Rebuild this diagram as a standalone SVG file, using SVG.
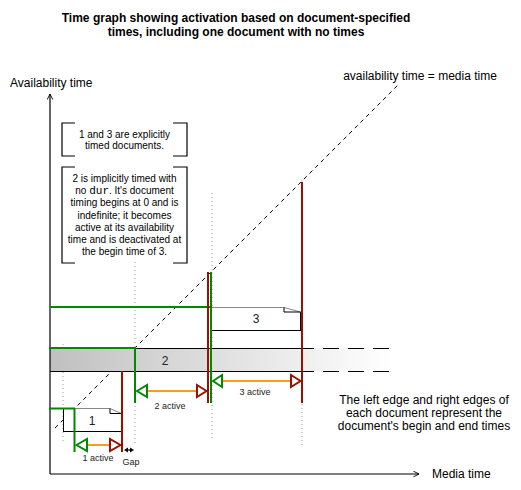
<svg xmlns="http://www.w3.org/2000/svg" width="521" height="490" viewBox="0 0 521 490">
<style>
text{font-family:"Liberation Sans",Arial,sans-serif;fill:#000}
.title{font-size:12px;font-weight:bold;text-anchor:middle}
.lbl{font-size:12px}
.note{font-size:10px;text-anchor:middle}
.mono{font-family:"Liberation Mono","Courier New",monospace;font-size:11px}
.act{font-size:9px;text-anchor:middle;fill:#222}
.num{font-size:12px;text-anchor:middle;fill:#222}
.axis{stroke:#000;stroke-width:1.2;fill:none}
.diag{stroke:#000;stroke-width:1;stroke-dasharray:4 4;fill:none}
.dot{stroke:#999;stroke-width:1;stroke-dasharray:1 3;fill:none}
.g{stroke:#008800;stroke-width:2;fill:none}
.r{stroke:#991100;stroke-width:2;fill:none}
.o{stroke:#ff9a1f;stroke-width:2;fill:none}
.gt{stroke:#008800;stroke-width:2;fill:#fff}
.rt{stroke:#991100;stroke-width:2;fill:#fff}
.brk{stroke:#000;stroke-width:1.2;fill:none}
.edge{stroke:#000;stroke-width:1;fill:none}
.top{stroke:#888;stroke-width:1;fill:none}
</style>
<defs>
<marker id="open" viewBox="0 0 10 10" refX="9" refY="5" markerWidth="7" markerHeight="7" orient="auto" markerUnits="userSpaceOnUse">
<path d="M1,1 L9,5 L1,9" fill="none" stroke="#000" stroke-width="1.3"/>
</marker>
<linearGradient id="band" x1="50" y1="0" x2="390" y2="0" gradientUnits="userSpaceOnUse">
<stop offset="0" stop-color="#c0c0c0"/>
<stop offset="1" stop-color="#ffffff"/>
</linearGradient>
</defs>
<rect width="521" height="490" fill="#fff"/>

<g id="title">
<text class="title" x="236" y="22">Time graph showing activation based on document-specified</text>
<text class="title" x="236" y="36">times, including one document with no times</text>
</g>

<g id="guides">
<line class="dot" x1="63" y1="344" x2="63" y2="443"/>
<line class="dot" x1="135" y1="262" x2="135" y2="443"/>
<line class="dot" x1="212" y1="193" x2="212" y2="440"/>
<line class="dot" x1="302" y1="180" x2="302" y2="445"/>
<line class="diag" x1="55" y1="428" x2="398" y2="85"/>
</g>

<g id="doc2">
<rect x="50" y="348" width="340" height="23" fill="url(#band)"/>
<path class="edge" d="M50,348.5 H314 M323,348.5 H339 M348,348.5 H364 M373,348.5 H389"/>
<path class="edge" d="M50,371.5 H314 M323,371.5 H339 M348,371.5 H364 M373,371.5 H389"/>
<text class="num" x="165" y="365">2</text>
</g>

<g id="doc3">
<rect x="212" y="307" width="89" height="24" fill="#fff"/>
<path class="top" d="M212,307.5 H284 L300.5,312"/>
<path class="edge" d="M284,307.5 V312 H300.5 M300.5,312 V331 M212,330.5 H300.5"/>
<text class="num" x="256" y="323">3</text>
</g>

<g id="doc1">
<rect x="63" y="409" width="59" height="23" fill="#fff"/>
<path class="top" d="M63,408.5 H110 L121.5,413.5"/>
<path class="edge" d="M110,408.5 V413.5 H121.5 M63.5,408.5 V432 M63,431.5 H121.5"/>
<text class="num" x="92" y="425">1</text>
</g>

<g id="connectors">
<line class="axis" x1="50" y1="474" x2="50" y2="94" marker-end="url(#open)"/>
<line class="axis" x1="50" y1="474" x2="419" y2="474" marker-end="url(#open)"/>

<line class="g" x1="50" y1="307" x2="211" y2="307"/>
<line class="g" x1="49" y1="348" x2="136" y2="348"/>
<line class="g" x1="49" y1="408.5" x2="75" y2="408.5"/>

<line class="r" x1="122" y1="371" x2="122" y2="452"/>
<line class="r" x1="208" y1="272" x2="208" y2="403"/>
<line class="r" x1="302" y1="182" x2="302" y2="403"/>
<line class="g" x1="74.5" y1="408" x2="74.5" y2="452"/>
<line class="g" x1="135" y1="348" x2="135" y2="403"/>
<line class="g" x1="211" y1="272" x2="211" y2="403"/>

<line class="o" x1="87" y1="445" x2="110" y2="445"/>
<polygon class="gt" points="76.5,445 87,439 87,451"/>
<polygon class="rt" points="120.5,445 110,439 110,451"/>

<line class="o" x1="147" y1="391" x2="197" y2="391"/>
<polygon class="gt" points="137,391 147,385 147,397"/>
<polygon class="rt" points="206.5,391 197,385 197,397"/>

<line class="o" x1="222" y1="381" x2="291" y2="381"/>
<polygon class="gt" points="213,381 222,375 222,387"/>
<polygon class="rt" points="300.5,381 291,375 291,387"/>

<line x1="126" y1="450" x2="131" y2="450" stroke="#000" stroke-width="1.2"/>
<polygon points="124,450 128,447.5 128,452.5" fill="#000"/>
<polygon points="134,450 130,447.5 130,452.5" fill="#000"/>
</g>

<g id="labels">
<text class="lbl" x="10" y="87">Availability time</text>
<text class="lbl" x="420" y="80" text-anchor="middle">availability time = media time</text>
<text class="lbl" x="432" y="478">Media time</text>
<text class="lbl" x="424" y="404" text-anchor="middle">The left edge and right edges of</text>
<text class="lbl" x="424" y="417" text-anchor="middle">each document represent the</text>
<text class="lbl" x="424" y="430" text-anchor="middle">document's begin and end times</text>
<text class="act" x="98" y="461">1 active</text>
<text class="act" x="131" y="465">Gap</text>
<text class="act" x="170" y="409">2 active</text>
<text class="act" x="255" y="395">3 active</text>
</g>

<g id="note1">
<path class="brk" d="M75,123 H62 V156 H75 M173,123 H187 V156 H173"/>
<text class="note" x="124.5" y="138">1 and 3 are explicitly</text>
<text class="note" x="124.5" y="149">timed documents.</text>
</g>

<g id="note2">
<path class="brk" d="M75,167 H62 V263 H75 M173,167 H187 V263 H173"/>
<text class="note" x="124.5" y="181.5">2 is implicitly timed with</text>
<text class="note" x="124.5" y="194">no <tspan class="mono">dur</tspan>. It's document</text>
<text class="note" x="124.5" y="206.2">timing begins at 0 and is</text>
<text class="note" x="124.5" y="218.5">indefinite; it becomes</text>
<text class="note" x="124.5" y="230.8">active at its availability</text>
<text class="note" x="124.5" y="243">time and is deactivated at</text>
<text class="note" x="124.5" y="255.3">the begin time of 3.</text>
</g>
</svg>
